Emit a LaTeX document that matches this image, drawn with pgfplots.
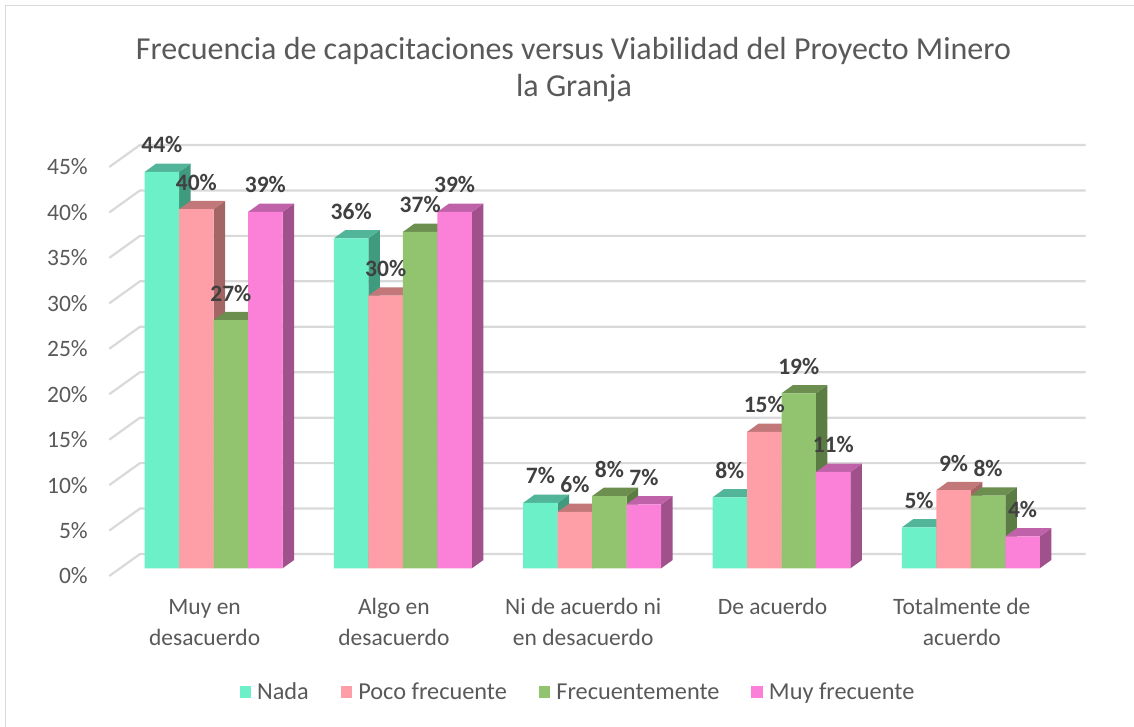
\documentclass[border=0pt]{standalone}
\usepackage{pgfplots}
\usepackage{pgfplotstable}
\pgfplotsset{compat=1.18}
\usepackage{fontspec}
\setmainfont{Carlito}

\definecolor{txt}{HTML}{595959}
\definecolor{lab}{HTML}{404040}
\definecolor{gridc}{HTML}{D9D9D9}
\definecolor{nadaF}{HTML}{6CF0C8}
\definecolor{nadaT}{HTML}{52B498}
\definecolor{nadaS}{HTML}{409A7E}
\definecolor{pocoF}{HTML}{FE9EA6}
\definecolor{pocoT}{HTML}{C27878}
\definecolor{pocoS}{HTML}{A46565}
\definecolor{frecF}{HTML}{92C470}
\definecolor{frecT}{HTML}{6C8F50}
\definecolor{frecS}{HTML}{5B7D43}
\definecolor{muyF}{HTML}{FA80D8}
\definecolor{muyT}{HTML}{C062AA}
\definecolor{muyS}{HTML}{A0508A}

% values (%) and their printed labels
\pgfplotstableread{
cat nada poco frec muy  lnada lpoco lfrec lmuy
0   43.6 39.5 27.3 39.2 44    40    27    39
1   36.3 30.0 37.0 39.2 36    30    37    39
2   7.2  6.2  7.95 7.04 7     6     8     7
3   7.8  15.0 19.25 10.6 8    15    19    11
4   4.5  8.6  8.0  3.5  5     9     8     4
}\datatable

\def\bw{0.1822}
\def\ddx{0.0607}
\def\ddy{0.913}
% 3D side and top faces of the bars of one series
\newcommand\faces[4]{%
  \pgfplotsinvokeforeach{0,...,4}{%
    \pgfplotstablegetelem{##1}{#1}\of\datatable
    \pgfmathsetmacro\fT{\pgfplotsretval}%
    \pgfmathsetmacro\fL{##1+(#2-2)*\bw}%
    \pgfmathsetmacro\fR{\fL+\bw}%
    \pgfmathsetmacro\fLd{\fL+\ddx}%
    \pgfmathsetmacro\fRd{\fR+\ddx}%
    \pgfmathsetmacro\fTd{\fT+\ddy}%
    \edef\tmp{\noexpand\addplot[fill=#3,draw=none,forget plot] coordinates {(\fR,0) (\fRd,\ddy) (\fRd,\fTd) (\fR,\fT)};
      \noexpand\addplot[fill=#4,draw=none,forget plot] coordinates {(\fL,\fT) (\fLd,\fTd) (\fRd,\fTd) (\fR,\fT)};}%
    \tmp
  }%
}
\newcommand\labels[2]{%
  \addplot[draw=none, mark=none, forget plot,
    point meta=explicit symbolic,
    nodes near coords={\pgfplotspointmeta\%},
    every node near coord/.append style={font=\fontsize{23.5}{28}\selectfont\bfseries, text=lab, anchor=base, yshift=19pt, inner sep=0pt}]
    table[x expr=\thisrow{cat}+#2, y=#1, meta=l#1]{\datatable};
}

\begin{document}
\begin{tikzpicture}
\useasboundingbox (0,0) rectangle (1134pt,727pt);
\draw[gridc, line width=1.5pt] (5.5pt,0) -- (5.5pt,721.5pt) -- (1134pt,721.5pt);

\begin{axis}[
  at={(118.95pt,140.52pt)}, anchor=south west,
  scale only axis, width=946.5pt, height=472.68pt,
  xmin=-0.5, xmax=4.5, ymin=-2, ymax=50,
  clip=false,
  axis line style={draw=none},
  major tick length=0pt,
  tick style={draw=none},
  ytick={-0.85,4.15,9.15,14.15,19.15,24.15,29.15,34.15,39.15,44.15},
  yticklabels={0\%,5\%,10\%,15\%,20\%,25\%,30\%,35\%,40\%,45\%},
  yticklabel style={font=\fontsize{23.5}{28}\selectfont, text=txt, anchor=east, inner sep=0pt, xshift=-31pt},
  xtick={0,1,2,3,4},
  xticklabels={{\strut Muy en\\\strut desacuerdo},{\strut Algo en\\\strut desacuerdo},{\strut Ni de acuerdo ni\\\strut en desacuerdo},{\strut De acuerdo},{\strut Totalmente de\\\strut acuerdo}},
  xticklabel style={font=\fontsize{23.5}{31}\selectfont, text=txt, align=center, anchor=north, inner sep=0pt, xshift=-9pt, yshift=-6pt},
  legend columns=4,
  legend style={draw=none, fill=none, at={(0.4855,-0.2232)}, anchor=center,
    font=\fontsize{24.3}{28}\selectfont, text=txt,
    nodes={inner sep=3pt},
    /tikz/every odd column/.append style={column sep=3pt},
    /tikz/every even column/.append style={column sep=29pt}},
  legend image code/.code={\fill[#1] (0pt,-5.75pt) rectangle (11.5pt,5.75pt);},
]
% grid on the back wall with its 3D edge
\pgfplotsinvokeforeach{0,5,...,45}{%
  \pgfmathsetmacro\ga{#1-0.85}%
  \pgfmathsetmacro\gb{#1+1.57}%
  \edef\tmp{\noexpand\addplot[gridc, line width=2.2pt, forget plot] coordinates {(-0.551,\ga) (-0.389,\gb) (4.607,\gb)};}%
  \tmp
}

\faces{nada}{0}{nadaS}{nadaT}
\addplot[ybar, bar width=\bw, bar shift=-0.2733, fill=nadaF, draw=none] table[x=cat,y=nada]{\datatable};
\faces{poco}{1}{pocoS}{pocoT}
\addplot[ybar, bar width=\bw, bar shift=-0.0911, fill=pocoF, draw=none] table[x=cat,y=poco]{\datatable};
\faces{frec}{2}{frecS}{frecT}
\addplot[ybar, bar width=\bw, bar shift=0.0911, fill=frecF, draw=none] table[x=cat,y=frec]{\datatable};
\faces{muy}{3}{muyS}{muyT}
\addplot[ybar, bar width=\bw, bar shift=0.2733, fill=muyF, draw=none] table[x=cat,y=muy]{\datatable};

\labels{nada}{-0.2733}
\labels{poco}{-0.0911}
\labels{frec}{0.0911}
\labels{muy}{0.2733}

\legend{Nada, Poco frecuente, Frecuentemente, Muy frecuente}
\end{axis}

\node[font=\fontsize{32}{38}\selectfont, text=txt, anchor=base] at (573.5pt,667pt) {Frecuencia de capacitaciones versus Viabilidad del Proyecto Minero};
\node[font=\fontsize{32}{38}\selectfont, text=txt, anchor=base] at (574pt,630pt) {la Granja};
\end{tikzpicture}
\end{document}
